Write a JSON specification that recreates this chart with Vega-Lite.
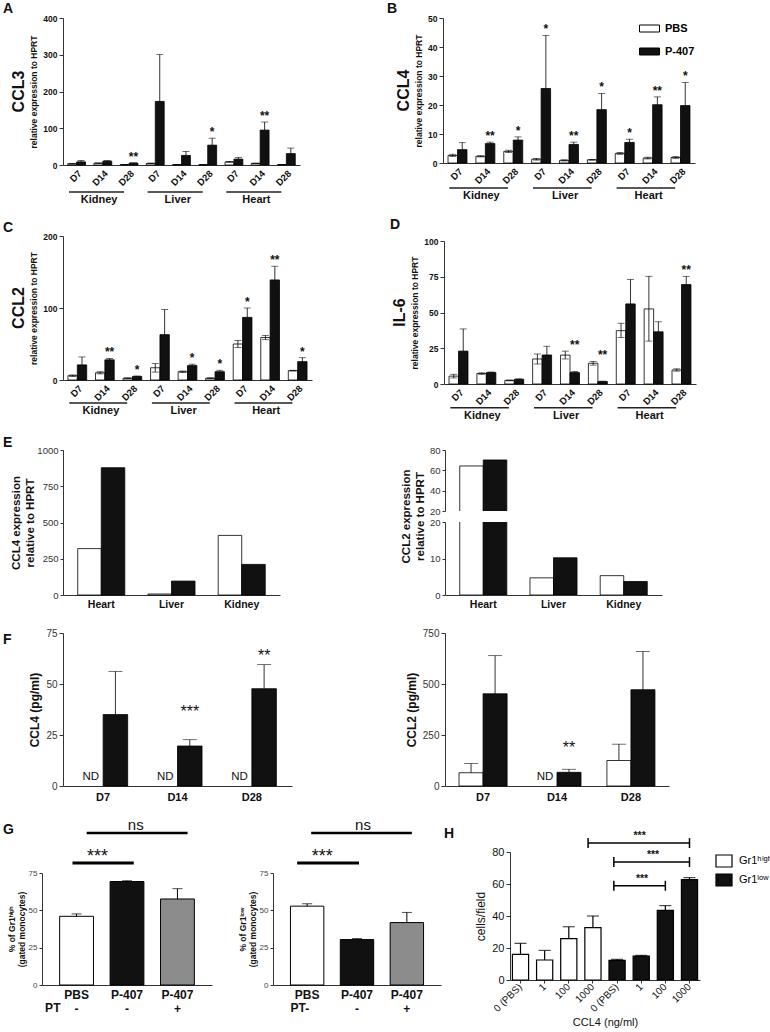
{
"$schema":"https://vega.github.io/schema/vega-lite/v6.json",
"padding":{"left":3,"top":2,"right":2,"bottom":2},
"config":{
 "font":"Liberation Sans",
 "view":{"stroke":null},
 "axis":{"grid":false,"domainColor":"#333333","tickColor":"#333333","labelColor":"#111111","titleColor":"#111111","labelFlush":false,"labelOverlap":false},
 "title":{"color":"#111111"},
 "text":{"color":"#111111"}
},
"datasets":{
 "organs":[
  {"organ":"Kidney","first":"Kidney D7","mid":"Kidney D14","last":"Kidney D28"},
  {"organ":"Liver","first":"Liver D7","mid":"Liver D14","last":"Liver D28"},
  {"organ":"Heart","first":"Heart D7","mid":"Heart D14","last":"Heart D28"}
 ],
 "A":[
  {"s":"Kidney D7","g":"PBS","v":3.5,"lo":2.5,"hi":4.5},
  {"s":"Kidney D7","g":"P-407","v":8.5,"lo":8.5,"hi":12.5},
  {"s":"Kidney D14","g":"PBS","v":5,"lo":4.5,"hi":5.5},
  {"s":"Kidney D14","g":"P-407","v":10.5,"lo":10.5,"hi":12},
  {"s":"Kidney D28","g":"PBS","v":1,"lo":0.8,"hi":1.2},
  {"s":"Kidney D28","g":"P-407","v":5,"lo":5,"hi":6,"sig":"**"},
  {"s":"Liver D7","g":"PBS","v":4.5,"lo":4,"hi":5},
  {"s":"Liver D7","g":"P-407","v":173,"lo":173,"hi":301},
  {"s":"Liver D14","g":"PBS","v":1,"lo":0.8,"hi":1.2},
  {"s":"Liver D14","g":"P-407","v":26,"lo":26,"hi":37},
  {"s":"Liver D28","g":"PBS","v":1,"lo":0.8,"hi":1.2},
  {"s":"Liver D28","g":"P-407","v":54,"lo":54,"hi":73,"sig":"*"},
  {"s":"Heart D7","g":"PBS","v":8.5,"lo":7.5,"hi":9.5},
  {"s":"Heart D7","g":"P-407","v":16,"lo":16,"hi":20.5},
  {"s":"Heart D14","g":"PBS","v":4.5,"lo":4,"hi":5},
  {"s":"Heart D14","g":"P-407","v":95,"lo":95,"hi":117,"sig":"**"},
  {"s":"Heart D28","g":"PBS","v":1,"lo":0.8,"hi":1.2},
  {"s":"Heart D28","g":"P-407","v":31,"lo":31,"hi":46}
 ],
 "B":[
  {"s":"Kidney D7","g":"PBS","v":2.6,"lo":2.2,"hi":3.0},
  {"s":"Kidney D7","g":"P-407","v":4.6,"lo":4.6,"hi":7.0},
  {"s":"Kidney D14","g":"PBS","v":2.3,"lo":2.1,"hi":2.5},
  {"s":"Kidney D14","g":"P-407","v":6.7,"lo":6.7,"hi":7.2,"sig":"**"},
  {"s":"Kidney D28","g":"PBS","v":4.0,"lo":3.6,"hi":4.4},
  {"s":"Kidney D28","g":"P-407","v":7.9,"lo":7.9,"hi":9.0,"sig":"*"},
  {"s":"Liver D7","g":"PBS","v":1.3,"lo":1.0,"hi":1.6},
  {"s":"Liver D7","g":"P-407","v":25.7,"lo":25.7,"hi":44,"sig":"*"},
  {"s":"Liver D14","g":"PBS","v":0.9,"lo":0.7,"hi":1.1},
  {"s":"Liver D14","g":"P-407","v":6.4,"lo":6.4,"hi":7.2,"sig":"**"},
  {"s":"Liver D28","g":"PBS","v":1.1,"lo":1.0,"hi":1.2},
  {"s":"Liver D28","g":"P-407","v":18.4,"lo":18.4,"hi":24,"sig":"*"},
  {"s":"Heart D7","g":"PBS","v":3.3,"lo":3.0,"hi":3.6},
  {"s":"Heart D7","g":"P-407","v":7.1,"lo":7.1,"hi":8.2,"sig":"*"},
  {"s":"Heart D14","g":"PBS","v":1.7,"lo":1.4,"hi":2.0},
  {"s":"Heart D14","g":"P-407","v":20.1,"lo":20.1,"hi":22.8,"sig":"**"},
  {"s":"Heart D28","g":"PBS","v":1.9,"lo":1.6,"hi":2.2},
  {"s":"Heart D28","g":"P-407","v":19.8,"lo":19.8,"hi":27.8,"sig":"*"}
 ],
 "C":[
  {"s":"Kidney D7","g":"PBS","v":6,"lo":5,"hi":7},
  {"s":"Kidney D7","g":"P-407","v":21,"lo":21,"hi":32},
  {"s":"Kidney D14","g":"PBS","v":10,"lo":8.5,"hi":11.5},
  {"s":"Kidney D14","g":"P-407","v":28,"lo":28,"hi":30,"sig":"**"},
  {"s":"Kidney D28","g":"PBS","v":2.5,"lo":2,"hi":3},
  {"s":"Kidney D28","g":"P-407","v":5,"lo":5,"hi":5.5,"sig":"*"},
  {"s":"Liver D7","g":"PBS","v":17,"lo":11,"hi":23},
  {"s":"Liver D7","g":"P-407","v":63,"lo":63,"hi":98},
  {"s":"Liver D14","g":"PBS","v":11.5,"lo":10.5,"hi":12.5},
  {"s":"Liver D14","g":"P-407","v":20,"lo":20,"hi":22,"sig":"*"},
  {"s":"Liver D28","g":"PBS","v":2.5,"lo":2,"hi":3},
  {"s":"Liver D28","g":"P-407","v":11.5,"lo":11.5,"hi":13.5,"sig":"*"},
  {"s":"Heart D7","g":"PBS","v":50,"lo":45,"hi":55},
  {"s":"Heart D7","g":"P-407","v":87,"lo":87,"hi":100,"sig":"*"},
  {"s":"Heart D14","g":"PBS","v":59,"lo":56,"hi":62},
  {"s":"Heart D14","g":"P-407","v":139,"lo":139,"hi":158,"sig":"**"},
  {"s":"Heart D28","g":"PBS","v":13,"lo":12.5,"hi":13.5},
  {"s":"Heart D28","g":"P-407","v":25.5,"lo":25.5,"hi":31,"sig":"*"}
 ],
 "D":[
  {"s":"Kidney D7","g":"PBS","v":5.5,"lo":4.2,"hi":6.8},
  {"s":"Kidney D7","g":"P-407","v":23,"lo":23,"hi":38.5},
  {"s":"Kidney D14","g":"PBS","v":7.3,"lo":6.8,"hi":7.8},
  {"s":"Kidney D14","g":"P-407","v":8,"lo":8,"hi":8.4},
  {"s":"Kidney D28","g":"PBS","v":2.5,"lo":2.2,"hi":2.8},
  {"s":"Kidney D28","g":"P-407","v":3.3,"lo":3.3,"hi":3.6},
  {"s":"Liver D7","g":"PBS","v":17.5,"lo":14,"hi":21},
  {"s":"Liver D7","g":"P-407","v":20.3,"lo":20.3,"hi":26.4},
  {"s":"Liver D14","g":"PBS","v":20.2,"lo":17.5,"hi":23},
  {"s":"Liver D14","g":"P-407","v":8,"lo":8,"hi":8.8,"sig":"**"},
  {"s":"Liver D28","g":"PBS","v":14.5,"lo":13.2,"hi":15.8},
  {"s":"Liver D28","g":"P-407","v":1.7,"lo":1.7,"hi":2,"sig":"**"},
  {"s":"Heart D7","g":"PBS","v":37.3,"lo":32.5,"hi":42.5},
  {"s":"Heart D7","g":"P-407","v":56,"lo":56,"hi":73},
  {"s":"Heart D14","g":"PBS","v":52.5,"lo":30,"hi":75.3},
  {"s":"Heart D14","g":"P-407","v":36.5,"lo":36.5,"hi":43.5},
  {"s":"Heart D28","g":"PBS","v":9.8,"lo":9,"hi":10.6},
  {"s":"Heart D28","g":"P-407","v":69.5,"lo":69.5,"hi":75.3,"sig":"**"}
 ],
 "E1":[
  {"o":"Heart","g":"PBS","v":320},{"o":"Heart","g":"P-407","v":878},
  {"o":"Liver","g":"PBS","v":7},{"o":"Liver","g":"P-407","v":96},
  {"o":"Kidney","g":"PBS","v":411},{"o":"Kidney","g":"P-407","v":211}
 ],
 "E2":[
  {"o":"Heart","g":"PBS","v":64.3},{"o":"Heart","g":"P-407","v":70.2},
  {"o":"Liver","g":"PBS","v":4.7},{"o":"Liver","g":"P-407","v":10.2},
  {"o":"Kidney","g":"PBS","v":5.3},{"o":"Kidney","g":"P-407","v":3.7}
 ],
 "F1":[
  {"d":"D7","g":"PBS","nd":"ND"},{"d":"D7","g":"P-407","v":35,"hi":56.2},
  {"d":"D14","g":"PBS","nd":"ND"},{"d":"D14","g":"P-407","v":19.6,"hi":22.7},
  {"d":"D28","g":"PBS","nd":"ND"},{"d":"D28","g":"P-407","v":47.7,"hi":59.5}
 ],
 "F2":[
  {"d":"D7","g":"PBS","v":65,"hi":110},{"d":"D7","g":"P-407","v":452,"hi":639},
  {"d":"D14","g":"PBS","nd":"ND"},{"d":"D14","g":"P-407","v":67,"hi":82,"sig":"**"},
  {"d":"D28","g":"PBS","v":125,"hi":205},{"d":"D28","g":"P-407","v":472,"hi":659}
 ],
 "G1":[{"c":"PBS","v":46,"hi":47.6},{"c":"P-407","v":69.3,"hi":69.8},{"c":"P-407 PT","v":57.6,"hi":64.5}],
 "G2":[{"c":"PBS","v":52.8,"hi":54.4},{"c":"P-407","v":30.4,"hi":31.1},{"c":"P-407 PT","v":41.8,"hi":48.6}],
 "H":[
  {"s":"high|0 (PBS)","g":"Gr1ʰⁱᵍʰ","v":16,"hi":22.9},
  {"s":"high|1","g":"Gr1ʰⁱᵍʰ","v":12.5,"hi":18.5},
  {"s":"high|100","g":"Gr1ʰⁱᵍʰ","v":25.8,"hi":33.3},
  {"s":"high|1000","g":"Gr1ʰⁱᵍʰ","v":32.7,"hi":40},
  {"s":"low|0 (PBS)","g":"Gr1ˡᵒʷ","v":12.3,"hi":12.9},
  {"s":"low|1","g":"Gr1ˡᵒʷ","v":15,"hi":15.4},
  {"s":"low|100","g":"Gr1ˡᵒʷ","v":43.5,"hi":46.5},
  {"s":"low|1000","g":"Gr1ˡᵒʷ","v":62.7,"hi":64}
 ]
},
"resolve":{"scale":{"fill":"independent","xOffset":"independent"},"legend":{"fill":"independent"}},
"spacing":15,
"vconcat":[
 {"bounds":"flush","spacing":20,
  "resolve":{"scale":{"fill":"independent","xOffset":"independent"},"legend":{"fill":"independent"}},
  "hconcat":[
  {"width":1,"height":1,"data":{"values":[{"k":1}]},"mark":{"type":"point","opacity":0}},
  {"spacing":18,
   "resolve":{"scale":{"fill":"independent","xOffset":"independent"},"legend":{"fill":"independent"}},
   "vconcat":[
   {"spacing":15,
    "resolve":{"scale":{"fill":"independent","xOffset":"independent"},"legend":{"fill":"independent"}},
    "vconcat":[
    {"spacing":11,
     "resolve":{"scale":{"fill":"independent","xOffset":"independent"},"legend":{"fill":"independent"}},
     "vconcat":[
     {"spacing":87,
      "resolve":{"scale":{"fill":"independent","xOffset":"independent"},"legend":{"fill":"independent"}},
      "hconcat":[
      {"title":{"text":"A","anchor":"start","frame":"group","fontSize":14,"fontWeight":"bold","offset":-2,"dx":-60},
       "resolve":{"scale":{"fill":"independent","xOffset":"independent"},"legend":{"fill":"independent"}},
       "vconcat":[{
        "width":237,"height":147,
        "title":{"text":"CCL3","orient":"left","anchor":"middle","frame":"group","fontSize":16,"fontWeight":"bold","offset":3},
        "layer":[
         {"data":{"name":"A"},
          "encoding":{
           "x":{"field":"s","type":"nominal","scale":{"type":"band","domain":["Kidney D7","Kidney D14","Kidney D28","Liver D7","Liver D14","Liver D28","Heart D7","Heart D14","Heart D28"],"paddingInner":0.32,"paddingOuter":0.18},"axis":{"title":null,"labelExpr":"split(datum.value, ' ')[1]","labelAngle":-45,"labelFontSize":9.5,"labelFontWeight":"bold","ticks":false,"labelPadding":3,"labelOverlap":false}},
           "xOffset":{"field":"g","type":"nominal","scale":{"type":"band","domain":["PBS","P-407"],"paddingInner":0,"paddingOuter":0}}},
          "layer":[
           {"mark":{"type":"bar","stroke":"#000","strokeWidth":0.8},"encoding":{"y":{"field":"v","type":"quantitative","scale":{"domain":[0,400]},"axis":{"title":"relative expression to HPRT","titleFontSize":8.5,"titleFontWeight":"bold","titlePadding":4,"values":[0,100,200,300,400],"tickCount":20,"labelOverlap":false,"labelFontSize":8.5,"labelFontWeight":"bold","tickSize":4,"labelPadding":2}},"fill":{"field":"g","type":"nominal","scale":{"domain":["PBS","P-407"],"range":["#ffffff","#111111"]},"legend":null}}},
           {"mark":{"type":"rule","color":"#000","strokeWidth":0.8},"encoding":{"y":{"field":"lo","type":"quantitative","scale":{"domain":[0,400]}},"y2":{"field":"hi"}}},
           {"mark":{"type":"tick","color":"#000","size":7,"thickness":0.8},"encoding":{"y":{"field":"hi","type":"quantitative","scale":{"domain":[0,400]}}}},
           {"transform":[{"filter":"datum.g == 'PBS'"}],"mark":{"type":"tick","color":"#000","size":7,"thickness":0.8},"encoding":{"y":{"field":"lo","type":"quantitative","scale":{"domain":[0,400]}}}},
           {"transform":[{"joinaggregate":[{"op":"max","field":"hi","as":"top"}],"groupby":["s"]},{"filter":"datum.sig"}],"mark":{"type":"text","fontSize":12,"fontWeight":"bold","baseline":"alphabetic","dy":-2},"encoding":{"y":{"field":"top","type":"quantitative","scale":{"domain":[0,400]}},"text":{"field":"sig"}}}
          ]},
         {"data":{"name":"organs"},
          "encoding":{"y":{"datum":-73.5,"type":"quantitative","scale":{"domain":[0,400]}}},
          "layer":[
           {"mark":{"type":"rule","color":"#222","strokeWidth":1.5},"encoding":{"x":{"field":"first","type":"nominal","bandPosition":0.07,"scale":{"type":"band","domain":["Kidney D7","Kidney D14","Kidney D28","Liver D7","Liver D14","Liver D28","Heart D7","Heart D14","Heart D28"],"paddingInner":0.32,"paddingOuter":0.18}},"x2":{"field":"last","bandPosition":0.22}}},
           {"mark":{"type":"text","fontSize":11,"fontWeight":"bold","baseline":"top","dy":2},"encoding":{"x":{"field":"mid","type":"nominal","bandPosition":0.29,"scale":{"type":"band","domain":["Kidney D7","Kidney D14","Kidney D28","Liver D7","Liver D14","Liver D28","Heart D7","Heart D14","Heart D28"],"paddingInner":0.32,"paddingOuter":0.18}},"text":{"field":"organ"}}}
          ]}
        ]
       }]
      },
      {"title":{"text":"B","anchor":"start","frame":"group","fontSize":14,"fontWeight":"bold","offset":-2,"dx":-56},
       "resolve":{"scale":{"fill":"independent","xOffset":"independent"},"legend":{"fill":"independent"}},
       "vconcat":[{
        "width":252,"height":145,
        "title":{"text":"CCL4","orient":"left","anchor":"middle","frame":"group","fontSize":16,"fontWeight":"bold","offset":3},
        "layer":[
         {"data":{"name":"B"},
          "encoding":{
           "x":{"field":"s","type":"nominal","scale":{"type":"band","domain":["Kidney D7","Kidney D14","Kidney D28","Liver D7","Liver D14","Liver D28","Heart D7","Heart D14","Heart D28"],"paddingInner":0.32,"paddingOuter":0.18},"axis":{"title":null,"labelExpr":"split(datum.value, ' ')[1]","labelAngle":-45,"labelFontSize":9.5,"labelFontWeight":"bold","ticks":false,"labelPadding":3,"labelOverlap":false}},
           "xOffset":{"field":"g","type":"nominal","scale":{"type":"band","domain":["PBS","P-407"],"paddingInner":0,"paddingOuter":0}}},
          "layer":[
           {"mark":{"type":"bar","stroke":"#000","strokeWidth":0.8},"encoding":{"y":{"field":"v","type":"quantitative","scale":{"domain":[0,50]},"axis":{"title":"relative expression to HPRT","titleFontSize":8.5,"titleFontWeight":"bold","titlePadding":4,"values":[0,10,20,30,40,50],"tickCount":20,"labelOverlap":false,"labelFontSize":8.5,"labelFontWeight":"bold","tickSize":4,"labelPadding":2}},"fill":{"field":"g","type":"nominal","scale":{"domain":["PBS","P-407"],"range":["#ffffff","#111111"]},"legend":{"title":null,"orient":"top-right","offset":0,"padding":0,"symbolType":"M-1,-0.35L1,-0.35L1,0.35L-1,0.35Z","symbolSize":400,"symbolStrokeColor":"#000","symbolStrokeWidth":1,"labelFontSize":11,"labelFontWeight":"bold","labelOffset":5,"rowPadding":7}}}},
           {"mark":{"type":"rule","color":"#000","strokeWidth":0.8},"encoding":{"y":{"field":"lo","type":"quantitative","scale":{"domain":[0,50]}},"y2":{"field":"hi"}}},
           {"mark":{"type":"tick","color":"#000","size":7,"thickness":0.8},"encoding":{"y":{"field":"hi","type":"quantitative","scale":{"domain":[0,50]}}}},
           {"transform":[{"filter":"datum.g == 'PBS'"}],"mark":{"type":"tick","color":"#000","size":7,"thickness":0.8},"encoding":{"y":{"field":"lo","type":"quantitative","scale":{"domain":[0,50]}}}},
           {"transform":[{"joinaggregate":[{"op":"max","field":"hi","as":"top"}],"groupby":["s"]},{"filter":"datum.sig"}],"mark":{"type":"text","fontSize":12,"fontWeight":"bold","baseline":"alphabetic","dy":-2},"encoding":{"y":{"field":"top","type":"quantitative","scale":{"domain":[0,50]}},"text":{"field":"sig"}}}
          ]},
         {"data":{"name":"organs"},
          "encoding":{"y":{"datum":-8.6,"type":"quantitative","scale":{"domain":[0,50]}}},
          "layer":[
           {"mark":{"type":"rule","color":"#222","strokeWidth":1.5},"encoding":{"x":{"field":"first","type":"nominal","bandPosition":0.07,"scale":{"type":"band","domain":["Kidney D7","Kidney D14","Kidney D28","Liver D7","Liver D14","Liver D28","Heart D7","Heart D14","Heart D28"],"paddingInner":0.32,"paddingOuter":0.18}},"x2":{"field":"last","bandPosition":0.22}}},
           {"mark":{"type":"text","fontSize":11,"fontWeight":"bold","baseline":"top","dy":2},"encoding":{"x":{"field":"mid","type":"nominal","bandPosition":0.29,"scale":{"type":"band","domain":["Kidney D7","Kidney D14","Kidney D28","Liver D7","Liver D14","Liver D28","Heart D7","Heart D14","Heart D28"],"paddingInner":0.32,"paddingOuter":0.18}},"text":{"field":"organ"}}}
          ]}
        ]
       }]
      }
     ]},
     {"spacing":78,
      "resolve":{"scale":{"fill":"independent","xOffset":"independent"},"legend":{"fill":"independent"}},
      "hconcat":[
      {"title":{"text":"C","anchor":"start","frame":"group","fontSize":14,"fontWeight":"bold","offset":-3,"dx":-60},
       "resolve":{"scale":{"fill":"independent","xOffset":"independent"},"legend":{"fill":"independent"}},
       "vconcat":[{
        "width":249,"height":144,
        "title":{"text":"CCL2","orient":"left","anchor":"middle","frame":"group","fontSize":16,"fontWeight":"bold","offset":3},
        "layer":[
         {"data":{"name":"C"},
          "encoding":{
           "x":{"field":"s","type":"nominal","scale":{"type":"band","domain":["Kidney D7","Kidney D14","Kidney D28","Liver D7","Liver D14","Liver D28","Heart D7","Heart D14","Heart D28"],"paddingInner":0.32,"paddingOuter":0.18},"axis":{"title":null,"labelExpr":"split(datum.value, ' ')[1]","labelAngle":-45,"labelFontSize":9.5,"labelFontWeight":"bold","ticks":false,"labelPadding":3,"labelOverlap":false}},
           "xOffset":{"field":"g","type":"nominal","scale":{"type":"band","domain":["PBS","P-407"],"paddingInner":0,"paddingOuter":0}}},
          "layer":[
           {"mark":{"type":"bar","stroke":"#000","strokeWidth":0.8},"encoding":{"y":{"field":"v","type":"quantitative","scale":{"domain":[0,200]},"axis":{"title":"relative expression to HPRT","titleFontSize":8.5,"titleFontWeight":"bold","titlePadding":4,"values":[0,100,200],"tickCount":20,"labelOverlap":false,"labelFontSize":8.5,"labelFontWeight":"bold","tickSize":4,"labelPadding":2}},"fill":{"field":"g","type":"nominal","scale":{"domain":["PBS","P-407"],"range":["#ffffff","#111111"]},"legend":null}}},
           {"mark":{"type":"rule","color":"#000","strokeWidth":0.8},"encoding":{"y":{"field":"lo","type":"quantitative","scale":{"domain":[0,200]}},"y2":{"field":"hi"}}},
           {"mark":{"type":"tick","color":"#000","size":7,"thickness":0.8},"encoding":{"y":{"field":"hi","type":"quantitative","scale":{"domain":[0,200]}}}},
           {"transform":[{"filter":"datum.g == 'PBS'"}],"mark":{"type":"tick","color":"#000","size":7,"thickness":0.8},"encoding":{"y":{"field":"lo","type":"quantitative","scale":{"domain":[0,200]}}}},
           {"transform":[{"joinaggregate":[{"op":"max","field":"hi","as":"top"}],"groupby":["s"]},{"filter":"datum.sig"}],"mark":{"type":"text","fontSize":12,"fontWeight":"bold","baseline":"alphabetic","dy":-2},"encoding":{"y":{"field":"top","type":"quantitative","scale":{"domain":[0,200]}},"text":{"field":"sig"}}}
          ]},
         {"data":{"name":"organs"},
          "encoding":{"y":{"datum":-32,"type":"quantitative","scale":{"domain":[0,200]}}},
          "layer":[
           {"mark":{"type":"rule","color":"#222","strokeWidth":1.5},"encoding":{"x":{"field":"first","type":"nominal","bandPosition":0.07,"scale":{"type":"band","domain":["Kidney D7","Kidney D14","Kidney D28","Liver D7","Liver D14","Liver D28","Heart D7","Heart D14","Heart D28"],"paddingInner":0.32,"paddingOuter":0.18}},"x2":{"field":"last","bandPosition":0.22}}},
           {"mark":{"type":"text","fontSize":11,"fontWeight":"bold","baseline":"top","dy":2},"encoding":{"x":{"field":"mid","type":"nominal","bandPosition":0.29,"scale":{"type":"band","domain":["Kidney D7","Kidney D14","Kidney D28","Liver D7","Liver D14","Liver D28","Heart D7","Heart D14","Heart D28"],"paddingInner":0.32,"paddingOuter":0.18}},"text":{"field":"organ"}}}
          ]}
        ]
       }]
      },
      {"title":{"text":"D","anchor":"start","frame":"group","fontSize":14,"fontWeight":"bold","offset":2,"dx":-54},
       "spacing":-3,
       "resolve":{"scale":{"fill":"independent","xOffset":"independent"},"legend":{"fill":"independent"}},
       "vconcat":[
        {"width":1,"height":1,"data":{"values":[{"k":1}]},"mark":{"type":"point","opacity":0}},
        {
        "width":252,"height":143,
        "title":{"text":"IL-6","orient":"left","anchor":"middle","frame":"group","fontSize":16,"fontWeight":"bold","offset":3},
        "layer":[
         {"data":{"name":"D"},
          "encoding":{
           "x":{"field":"s","type":"nominal","scale":{"type":"band","domain":["Kidney D7","Kidney D14","Kidney D28","Liver D7","Liver D14","Liver D28","Heart D7","Heart D14","Heart D28"],"paddingInner":0.32,"paddingOuter":0.18},"axis":{"title":null,"labelExpr":"split(datum.value, ' ')[1]","labelAngle":-45,"labelFontSize":9.5,"labelFontWeight":"bold","ticks":false,"labelPadding":3,"labelOverlap":false}},
           "xOffset":{"field":"g","type":"nominal","scale":{"type":"band","domain":["PBS","P-407"],"paddingInner":0,"paddingOuter":0}}},
          "layer":[
           {"mark":{"type":"bar","stroke":"#000","strokeWidth":0.8},"encoding":{"y":{"field":"v","type":"quantitative","scale":{"domain":[0,100]},"axis":{"title":"relative expression to HPRT","titleFontSize":8.5,"titleFontWeight":"bold","titlePadding":4,"values":[0,25,50,75,100],"tickCount":20,"labelOverlap":false,"labelFontSize":8.5,"labelFontWeight":"bold","tickSize":4,"labelPadding":2}},"fill":{"field":"g","type":"nominal","scale":{"domain":["PBS","P-407"],"range":["#ffffff","#111111"]},"legend":null}}},
           {"mark":{"type":"rule","color":"#000","strokeWidth":0.8},"encoding":{"y":{"field":"lo","type":"quantitative","scale":{"domain":[0,100]}},"y2":{"field":"hi"}}},
           {"mark":{"type":"tick","color":"#000","size":7,"thickness":0.8},"encoding":{"y":{"field":"hi","type":"quantitative","scale":{"domain":[0,100]}}}},
           {"transform":[{"filter":"datum.g == 'PBS'"}],"mark":{"type":"tick","color":"#000","size":7,"thickness":0.8},"encoding":{"y":{"field":"lo","type":"quantitative","scale":{"domain":[0,100]}}}},
           {"transform":[{"joinaggregate":[{"op":"max","field":"hi","as":"top"}],"groupby":["s"]},{"filter":"datum.sig"}],"mark":{"type":"text","fontSize":12,"fontWeight":"bold","baseline":"alphabetic","dy":-2},"encoding":{"y":{"field":"top","type":"quantitative","scale":{"domain":[0,100]}},"text":{"field":"sig"}}}
          ]},
         {"data":{"name":"organs"},
          "encoding":{"y":{"datum":-16.6,"type":"quantitative","scale":{"domain":[0,100]}}},
          "layer":[
           {"mark":{"type":"rule","color":"#222","strokeWidth":1.5},"encoding":{"x":{"field":"first","type":"nominal","bandPosition":0.07,"scale":{"type":"band","domain":["Kidney D7","Kidney D14","Kidney D28","Liver D7","Liver D14","Liver D28","Heart D7","Heart D14","Heart D28"],"paddingInner":0.32,"paddingOuter":0.18}},"x2":{"field":"last","bandPosition":0.22}}},
           {"mark":{"type":"text","fontSize":11,"fontWeight":"bold","baseline":"top","dy":2},"encoding":{"x":{"field":"mid","type":"nominal","bandPosition":0.29,"scale":{"type":"band","domain":["Kidney D7","Kidney D14","Kidney D28","Liver D7","Liver D14","Liver D28","Heart D7","Heart D14","Heart D28"],"paddingInner":0.32,"paddingOuter":0.18}},"text":{"field":"organ"}}}
          ]}
        ]
       }]
      }
     ]}
    ]},
    {"spacing":120,
     "resolve":{"scale":{"fill":"independent","xOffset":"independent"},"legend":{"fill":"independent"}},
     "hconcat":[
     {"width":217,"height":145,
      "title":{"text":"E","anchor":"start","frame":"group","fontSize":14,"fontWeight":"bold","offset":0,"dx":-60,"dy":5},
      "data":{"name":"E1"},
      "mark":{"type":"bar","stroke":"#000","strokeWidth":0.8},
      "encoding":{
       "x":{"field":"o","type":"nominal","scale":{"type":"band","domain":["Heart","Liver","Kidney"],"paddingInner":0.33,"paddingOuter":0.21},"axis":{"title":null,"labelAngle":0,"labelFontSize":10.5,"labelFontWeight":"bold","ticks":false,"labelPadding":4}},
       "xOffset":{"field":"g","type":"nominal","scale":{"type":"band","domain":["PBS","P-407"],"paddingInner":0,"paddingOuter":0}},
       "y":{"field":"v","type":"quantitative","scale":{"domain":[0,1000]},"axis":{"title":["CCL4 expression","relative to HPRT"],"titleFontSize":11.5,"titleFontWeight":"bold","titleLineHeight":14,"titlePadding":1,"values":[0,250,500,750,1000],"format":"d","labelFontSize":9.5,"labelColor":"#333","tickSize":3,"labelPadding":2}},
       "fill":{"field":"g","type":"nominal","scale":{"domain":["PBS","P-407"],"range":["#ffffff","#111111"]},"legend":null}
      }
     },
     {"spacing":11,"bounds":"flush",
      "resolve":{"scale":{"fill":"independent","xOffset":"independent"},"legend":{"fill":"independent"}},
      "vconcat":[
       {"width":217,"height":61,"data":{"name":"E2"},
        "mark":{"type":"bar","stroke":"#000","strokeWidth":0.8,"clip":true},
        "encoding":{
         "x":{"field":"o","type":"nominal","scale":{"type":"band","domain":["Heart","Liver","Kidney"],"paddingInner":0.33,"paddingOuter":0.21},"axis":null},
         "xOffset":{"field":"g","type":"nominal","scale":{"type":"band","domain":["PBS","P-407"],"paddingInner":0,"paddingOuter":0}},
         "y":{"field":"v","type":"quantitative","scale":{"domain":[20,80]},"axis":{"title":["CCL2 expression","relative to HPRT"],"titleFontSize":11.5,"titleFontWeight":"bold","titleLineHeight":14,"titlePadding":4,"titleY":66,"values":[20,40,60,80],"labelFontSize":9.5,"labelColor":"#333","tickSize":3,"labelPadding":2}},
         "y2":{"datum":0},
         "fill":{"field":"g","type":"nominal","scale":{"domain":["PBS","P-407"],"range":["#ffffff","#111111"]},"legend":null}
        }},
       {"width":217,"height":73,"data":{"name":"E2"},
        "mark":{"type":"bar","stroke":"#000","strokeWidth":0.8,"clip":true},
        "encoding":{
         "x":{"field":"o","type":"nominal","scale":{"type":"band","domain":["Heart","Liver","Kidney"],"paddingInner":0.33,"paddingOuter":0.21},"axis":{"title":null,"labelAngle":0,"labelFontSize":10.5,"labelFontWeight":"bold","ticks":false,"labelPadding":4}},
         "xOffset":{"field":"g","type":"nominal","scale":{"type":"band","domain":["PBS","P-407"],"paddingInner":0,"paddingOuter":0}},
         "y":{"field":"v","type":"quantitative","scale":{"domain":[0,20]},"axis":{"title":null,"values":[0,10,20],"labelFontSize":9.5,"labelColor":"#333","tickSize":3,"labelPadding":2}},
         "fill":{"field":"g","type":"nominal","scale":{"domain":["PBS","P-407"],"range":["#ffffff","#111111"]},"legend":null}
        }}
      ]}
    ]}
   ]},
   {"spacing":113,
    "resolve":{"scale":{"fill":"independent","xOffset":"independent"},"legend":{"fill":"independent"}},
    "hconcat":[
    {"width":229,"height":153,
     "title":{"text":"F","anchor":"start","frame":"group","fontSize":14,"fontWeight":"bold","offset":0,"dx":-60,"dy":19},
     "layer":[
      {"data":{"name":"F1"},
       "encoding":{
        "x":{"field":"d","type":"nominal","scale":{"type":"band","domain":["D7","D14","D28"],"paddingInner":0.34,"paddingOuter":0.21},"axis":{"title":null,"labelAngle":0,"labelFontSize":11,"labelFontWeight":"bold","ticks":false,"labelPadding":5}},
        "xOffset":{"field":"g","type":"nominal","scale":{"type":"band","domain":["PBS","P-407"],"paddingInner":0,"paddingOuter":0}}},
       "layer":[
        {"mark":{"type":"bar","stroke":"#000","strokeWidth":0.8},"encoding":{"y":{"field":"v","type":"quantitative","scale":{"domain":[0,75]},"axis":{"title":"CCL4 (pg/ml)","titleFontSize":12,"titleFontWeight":"bold","titlePadding":4,"values":[0,25,50,75],"tickCount":20,"labelOverlap":false,"labelFontSize":10,"labelColor":"#333","tickSize":4,"labelPadding":2}},"fill":{"field":"g","type":"nominal","scale":{"domain":["PBS","P-407"],"range":["#ffffff","#111111"]},"legend":null}}},
        {"transform":[{"filter":"datum.hi"}],"mark":{"type":"rule","color":"#000","strokeWidth":0.8},"encoding":{"y":{"field":"v","type":"quantitative","scale":{"domain":[0,75]}},"y2":{"field":"hi"}}},
        {"transform":[{"filter":"datum.hi"}],"mark":{"type":"tick","color":"#000","size":14,"thickness":0.8},"encoding":{"y":{"field":"hi","type":"quantitative","scale":{"domain":[0,75]}}}},
        {"transform":[{"filter":"datum.nd"}],"mark":{"type":"text","fontSize":11.5,"baseline":"alphabetic","dy":-6},"encoding":{"y":{"datum":0,"type":"quantitative","scale":{"domain":[0,75]}},"text":{"field":"nd"}}}
       ]},
      {"data":{"values":[{"d":"D14","t":"***"}]},"mark":{"type":"text","fontSize":16,"baseline":"alphabetic"},
       "encoding":{"x":{"field":"d","type":"nominal","bandPosition":0.75,"scale":{"type":"band","domain":["D7","D14","D28"],"paddingInner":0.34,"paddingOuter":0.21}},"y":{"datum":33.8,"type":"quantitative","scale":{"domain":[0,75]}},"text":{"field":"t"}}},
      {"data":{"values":[{"d":"D28","t":"**"}]},"mark":{"type":"text","fontSize":16,"baseline":"alphabetic"},
       "encoding":{"x":{"field":"d","type":"nominal","bandPosition":0.75,"scale":{"type":"band","domain":["D7","D14","D28"],"paddingInner":0.34,"paddingOuter":0.21}},"y":{"datum":61.1,"type":"quantitative","scale":{"domain":[0,75]}},"text":{"field":"t"}}}
     ]
    },
    {"width":224,"height":153,
     "layer":[
      {"data":{"name":"F2"},
       "encoding":{
        "x":{"field":"d","type":"nominal","scale":{"type":"band","domain":["D7","D14","D28"],"paddingInner":0.35,"paddingOuter":0.19},"axis":{"title":null,"labelAngle":0,"labelFontSize":11,"labelFontWeight":"bold","ticks":false,"labelPadding":5}},
        "xOffset":{"field":"g","type":"nominal","scale":{"type":"band","domain":["PBS","P-407"],"paddingInner":0,"paddingOuter":0}}},
       "layer":[
        {"mark":{"type":"bar","stroke":"#000","strokeWidth":0.8},"encoding":{"y":{"field":"v","type":"quantitative","scale":{"domain":[0,750]},"axis":{"title":"CCL2 (pg/ml)","titleFontSize":12,"titleFontWeight":"bold","titlePadding":4,"values":[0,250,500,750],"tickCount":20,"labelOverlap":false,"labelFontSize":10,"labelColor":"#333","tickSize":4,"labelPadding":2}},"fill":{"field":"g","type":"nominal","scale":{"domain":["PBS","P-407"],"range":["#ffffff","#111111"]},"legend":null}}},
        {"transform":[{"filter":"datum.hi"}],"mark":{"type":"rule","color":"#000","strokeWidth":0.8},"encoding":{"y":{"field":"v","type":"quantitative","scale":{"domain":[0,750]}},"y2":{"field":"hi"}}},
        {"transform":[{"filter":"datum.hi"}],"mark":{"type":"tick","color":"#000","size":14,"thickness":0.8},"encoding":{"y":{"field":"hi","type":"quantitative","scale":{"domain":[0,750]}}}},
        {"transform":[{"filter":"datum.nd"}],"mark":{"type":"text","fontSize":11.5,"baseline":"alphabetic","dy":-6},"encoding":{"y":{"datum":0,"type":"quantitative","scale":{"domain":[0,750]}},"text":{"field":"nd"}}},
        {"transform":[{"filter":"datum.sig"}],"mark":{"type":"text","fontSize":16,"baseline":"alphabetic","dy":-16},"encoding":{"y":{"field":"hi","type":"quantitative","scale":{"domain":[0,750]}},"text":{"field":"sig"}}}
       ]}
     ]
    }
   ]}
  ]}
 ]},
 {"spacing":3,
  "resolve":{"scale":{"fill":"independent","xOffset":"independent"},"legend":{"fill":"independent"}},
  "hconcat":[
  {"bounds":"flush","spacing":20,
   "resolve":{"scale":{"fill":"independent","xOffset":"independent"},"legend":{"fill":"independent"}},
   "vconcat":[
   {"width":1,"height":1,"data":{"values":[{"k":1}]},"mark":{"type":"point","opacity":0}},
   {"spacing":26,
    "resolve":{"scale":{"fill":"independent","xOffset":"independent"},"legend":{"fill":"independent"}},
    "hconcat":[
    {"width":170,"height":112,
     "title":{"text":"G","anchor":"start","frame":"group","fontSize":14,"fontWeight":"bold","offset":0,"dx":-39,"dy":19},
     "layer":[
      {"data":{"name":"G1"},
       "encoding":{"x":{"field":"c","type":"nominal","scale":{"type":"band","domain":["PBS","P-407","P-407 PT"],"paddingInner":0.33,"paddingOuter":0.35},"axis":{"title":null,"labelExpr":"datum.value == 'PBS' ? ['PBS', '-'] : datum.value == 'P-407' ? ['P-407', '-'] : ['P-407', '+']","labelAngle":0,"labelFontSize":12,"labelFontWeight":"bold","labelLineHeight":14,"ticks":false,"labelPadding":4,"labelOverlap":false}}},
       "layer":[
        {"mark":{"type":"bar","stroke":"#000","strokeWidth":1},"encoding":{"y":{"field":"v","type":"quantitative","scale":{"domain":[0,75]},"axis":{"title":["% of Gr1ʰⁱᵍʰ","(gated monocytes)"],"titleFontSize":8.5,"titleFontWeight":"bold","titleLineHeight":9.5,"titlePadding":2,"values":[0,25,50,75],"tickCount":20,"labelOverlap":false,"labelFontSize":8,"labelColor":"#444","tickSize":3,"labelPadding":2}},"fill":{"field":"c","type":"nominal","scale":{"domain":["PBS","P-407","P-407 PT"],"range":["#ffffff","#111111","#8c8c8c"]},"legend":null}}},
        {"mark":{"type":"rule","color":"#000"},"encoding":{"y":{"field":"v","type":"quantitative","scale":{"domain":[0,75]}},"y2":{"field":"hi"}}},
        {"mark":{"type":"tick","color":"#000","size":10,"thickness":1},"encoding":{"y":{"field":"hi","type":"quantitative","scale":{"domain":[0,75]}}}}
       ]},
      {"data":{"values":[{"a":"PBS","t":"PT"}]},"mark":{"type":"text","align":"left","baseline":"alphabetic","fontSize":12,"fontWeight":"bold"},
       "encoding":{"x":{"field":"a","type":"nominal","bandPosition":-0.43,"scale":{"type":"band","domain":["PBS","P-407","P-407 PT"],"paddingInner":0.33,"paddingOuter":0.35}},"y":{"datum":-18,"type":"quantitative","scale":{"domain":[0,75]}},"text":{"field":"t"}}},
      {"data":{"values":[{"a":"PBS","b":"P-407","m":"PBS","t":"***"}]},
       "encoding":{"y":{"datum":81.7,"type":"quantitative","scale":{"domain":[0,75]}}},
       "layer":[
        {"mark":{"type":"rule","color":"#000","strokeWidth":3},"encoding":{"x":{"field":"a","type":"nominal","bandPosition":0.38,"scale":{"type":"band","domain":["PBS","P-407","P-407 PT"],"paddingInner":0.33,"paddingOuter":0.35}},"x2":{"field":"b","bandPosition":0.7}}},
        {"mark":{"type":"text","fontSize":18,"baseline":"alphabetic","dy":-1},"encoding":{"x":{"field":"m","type":"nominal","bandPosition":1.12,"scale":{"type":"band","domain":["PBS","P-407","P-407 PT"],"paddingInner":0.33,"paddingOuter":0.35}},"text":{"field":"t"}}}
       ]},
      {"data":{"values":[{"a":"PBS","b":"P-407 PT","m":"P-407","t":"ns"}]},
       "encoding":{"y":{"datum":101.8,"type":"quantitative","scale":{"domain":[0,75]}}},
       "layer":[
        {"mark":{"type":"rule","color":"#000","strokeWidth":2.5},"encoding":{"x":{"field":"a","type":"nominal","bandPosition":0.8,"scale":{"type":"band","domain":["PBS","P-407","P-407 PT"],"paddingInner":0.33,"paddingOuter":0.35}},"x2":{"field":"b","bandPosition":0.8}}},
        {"mark":{"type":"text","fontSize":15,"baseline":"alphabetic","dy":-3},"encoding":{"x":{"field":"m","type":"nominal","bandPosition":0.76,"scale":{"type":"band","domain":["PBS","P-407","P-407 PT"],"paddingInner":0.33,"paddingOuter":0.35}},"text":{"field":"t"}}}
       ]}
     ]
    },
    {"width":168,"height":112,
     "layer":[
      {"data":{"name":"G2"},
       "encoding":{"x":{"field":"c","type":"nominal","scale":{"type":"band","domain":["PBS","P-407","P-407 PT"],"paddingInner":0.33,"paddingOuter":0.35},"axis":{"title":null,"labelExpr":"datum.value == 'PBS' ? ['PBS', '-'] : datum.value == 'P-407' ? ['P-407', '-'] : ['P-407', '+']","labelAngle":0,"labelFontSize":12,"labelFontWeight":"bold","labelLineHeight":14,"ticks":false,"labelPadding":4,"labelOverlap":false}}},
       "layer":[
        {"mark":{"type":"bar","stroke":"#000","strokeWidth":1},"encoding":{"y":{"field":"v","type":"quantitative","scale":{"domain":[0,75]},"axis":{"title":["% of Gr1ˡᵒʷ","(gated monocytes)"],"titleFontSize":8.5,"titleFontWeight":"bold","titleLineHeight":9.5,"titlePadding":2,"values":[0,25,50,75],"tickCount":20,"labelOverlap":false,"labelFontSize":8,"labelColor":"#444","tickSize":3,"labelPadding":2}},"fill":{"field":"c","type":"nominal","scale":{"domain":["PBS","P-407","P-407 PT"],"range":["#ffffff","#111111","#8c8c8c"]},"legend":null}}},
        {"mark":{"type":"rule","color":"#000"},"encoding":{"y":{"field":"v","type":"quantitative","scale":{"domain":[0,75]}},"y2":{"field":"hi"}}},
        {"mark":{"type":"tick","color":"#000","size":10,"thickness":1},"encoding":{"y":{"field":"hi","type":"quantitative","scale":{"domain":[0,75]}}}}
       ]},
      {"data":{"values":[{"a":"PBS","t":"PT"}]},"mark":{"type":"text","align":"left","baseline":"alphabetic","fontSize":12,"fontWeight":"bold"},
       "encoding":{"x":{"field":"a","type":"nominal","bandPosition":0,"scale":{"type":"band","domain":["PBS","P-407","P-407 PT"],"paddingInner":0.33,"paddingOuter":0.35}},"y":{"datum":-18,"type":"quantitative","scale":{"domain":[0,75]}},"text":{"field":"t"}}},
      {"data":{"values":[{"a":"PBS","b":"P-407","m":"PBS","t":"***"}]},
       "encoding":{"y":{"datum":81.7,"type":"quantitative","scale":{"domain":[0,75]}}},
       "layer":[
        {"mark":{"type":"rule","color":"#000","strokeWidth":3},"encoding":{"x":{"field":"a","type":"nominal","bandPosition":0.2,"scale":{"type":"band","domain":["PBS","P-407","P-407 PT"],"paddingInner":0.33,"paddingOuter":0.35}},"x2":{"field":"b","bandPosition":0.56}}},
        {"mark":{"type":"text","fontSize":18,"baseline":"alphabetic","dy":-1},"encoding":{"x":{"field":"m","type":"nominal","bandPosition":0.95,"scale":{"type":"band","domain":["PBS","P-407","P-407 PT"],"paddingInner":0.33,"paddingOuter":0.35}},"text":{"field":"t"}}}
       ]},
      {"data":{"values":[{"a":"PBS","b":"P-407 PT","m":"P-407","t":"ns"}]},
       "encoding":{"y":{"datum":101.8,"type":"quantitative","scale":{"domain":[0,75]}}},
       "layer":[
        {"mark":{"type":"rule","color":"#000","strokeWidth":2.5},"encoding":{"x":{"field":"a","type":"nominal","bandPosition":0.62,"scale":{"type":"band","domain":["PBS","P-407","P-407 PT"],"paddingInner":0.33,"paddingOuter":0.35}},"x2":{"field":"b","bandPosition":0.65}}},
        {"mark":{"type":"text","fontSize":15,"baseline":"alphabetic","dy":-3},"encoding":{"x":{"field":"m","type":"nominal","bandPosition":0.68,"scale":{"type":"band","domain":["PBS","P-407","P-407 PT"],"paddingInner":0.33,"paddingOuter":0.35}},"text":{"field":"t"}}}
       ]}
     ]
    }
   ]}
  ]},
  {"width":190,"height":128,
   "title":{"text":"H","anchor":"start","frame":"group","fontSize":14,"fontWeight":"bold","offset":-10,"dx":-66},
   "layer":[
    {"data":{"name":"H"},
     "encoding":{"x":{"field":"s","type":"nominal","scale":{"type":"band","domain":["high|0 (PBS)","high|1","high|100","high|1000","low|0 (PBS)","low|1","low|100","low|1000"],"paddingInner":0.33,"paddingOuter":0.1},"axis":{"title":"CCL4 (ng/ml)","titleFontSize":11,"titleFontWeight":"normal","titlePadding":3,"labelExpr":"split(datum.value, '|')[1]","labelAngle":-45,"labelBaseline":"middle","labelFontSize":10,"tickSize":3,"labelPadding":2,"labelOverlap":false}}},
     "layer":[
      {"mark":{"type":"bar","stroke":"#000","strokeWidth":1.2},"encoding":{"y":{"field":"v","type":"quantitative","scale":{"domain":[0,80]},"axis":{"title":"cells/field","titleFontSize":12,"titleFontWeight":"normal","titlePadding":4,"values":[0,20,40,60,80],"tickCount":20,"labelOverlap":false,"labelFontSize":11,"tickSize":4,"labelPadding":2}},"fill":{"field":"g","type":"nominal","scale":{"domain":["Gr1ʰⁱᵍʰ","Gr1ˡᵒʷ"],"range":["#ffffff","#111111"]},"legend":{"title":null,"orient":"right","offset":15,"padding":0,"symbolType":"M-1,-0.75L1,-0.75L1,0.75L-1,0.75Z","symbolSize":256,"symbolStrokeColor":"#000","symbolStrokeWidth":1.2,"labelFontSize":11,"labelOffset":6,"rowPadding":1}}}},
      {"mark":{"type":"rule","color":"#000","strokeWidth":1.2},"encoding":{"y":{"field":"v","type":"quantitative","scale":{"domain":[0,80]}},"y2":{"field":"hi"}}},
      {"mark":{"type":"tick","color":"#000","size":12,"thickness":1.2},"encoding":{"y":{"field":"hi","type":"quantitative","scale":{"domain":[0,80]}}}}
     ]},
    {"data":{"values":[{"a":"high|1000","b":"low|1000","m":"low|1","t":"***"}]},
     "layer":[
      {"mark":{"type":"rule","color":"#000","strokeWidth":1.5},"encoding":{"x":{"field":"a","type":"nominal","bandPosition":0.2,"scale":{"type":"band","domain":["high|0 (PBS)","high|1","high|100","high|1000","low|0 (PBS)","low|1","low|100","low|1000"],"paddingInner":0.33,"paddingOuter":0.1}},"x2":{"field":"b","bandPosition":0.5},"y":{"datum":85.6,"type":"quantitative","scale":{"domain":[0,80]}}}},
      {"mark":{"type":"rule","color":"#000","strokeWidth":1.5},"encoding":{"x":{"field":"a","type":"nominal","bandPosition":0.2,"scale":{"type":"band","domain":["high|0 (PBS)","high|1","high|100","high|1000","low|0 (PBS)","low|1","low|100","low|1000"],"paddingInner":0.33,"paddingOuter":0.1}},"y":{"datum":82.5,"type":"quantitative","scale":{"domain":[0,80]}},"y2":{"datum":88.7}}},
      {"mark":{"type":"rule","color":"#000","strokeWidth":1.5},"encoding":{"x":{"field":"b","type":"nominal","bandPosition":0.5,"scale":{"type":"band","domain":["high|0 (PBS)","high|1","high|100","high|1000","low|0 (PBS)","low|1","low|100","low|1000"],"paddingInner":0.33,"paddingOuter":0.1}},"y":{"datum":82.5,"type":"quantitative","scale":{"domain":[0,80]}},"y2":{"datum":88.7}}},
      {"mark":{"type":"text","fontSize":10.5,"fontWeight":"bold","baseline":"alphabetic","dy":-4},"encoding":{"x":{"field":"m","type":"nominal","bandPosition":0.4,"scale":{"type":"band","domain":["high|0 (PBS)","high|1","high|100","high|1000","low|0 (PBS)","low|1","low|100","low|1000"],"paddingInner":0.33,"paddingOuter":0.1}},"y":{"datum":85.6,"type":"quantitative","scale":{"domain":[0,80]}},"text":{"field":"t"}}}
     ]},
    {"data":{"values":[{"a":"low|0 (PBS)","b":"low|1000","m":"low|1","t":"***"}]},
     "layer":[
      {"mark":{"type":"rule","color":"#000","strokeWidth":1.5},"encoding":{"x":{"field":"a","type":"nominal","bandPosition":0.3,"scale":{"type":"band","domain":["high|0 (PBS)","high|1","high|100","high|1000","low|0 (PBS)","low|1","low|100","low|1000"],"paddingInner":0.33,"paddingOuter":0.1}},"x2":{"field":"b","bandPosition":0.5},"y":{"datum":73.75,"type":"quantitative","scale":{"domain":[0,80]}}}},
      {"mark":{"type":"rule","color":"#000","strokeWidth":1.5},"encoding":{"x":{"field":"a","type":"nominal","bandPosition":0.3,"scale":{"type":"band","domain":["high|0 (PBS)","high|1","high|100","high|1000","low|0 (PBS)","low|1","low|100","low|1000"],"paddingInner":0.33,"paddingOuter":0.1}},"y":{"datum":70.65,"type":"quantitative","scale":{"domain":[0,80]}},"y2":{"datum":76.85}}},
      {"mark":{"type":"rule","color":"#000","strokeWidth":1.5},"encoding":{"x":{"field":"b","type":"nominal","bandPosition":0.5,"scale":{"type":"band","domain":["high|0 (PBS)","high|1","high|100","high|1000","low|0 (PBS)","low|1","low|100","low|1000"],"paddingInner":0.33,"paddingOuter":0.1}},"y":{"datum":70.65,"type":"quantitative","scale":{"domain":[0,80]}},"y2":{"datum":76.85}}},
      {"mark":{"type":"text","fontSize":10.5,"fontWeight":"bold","baseline":"alphabetic","dy":-4},"encoding":{"x":{"field":"m","type":"nominal","bandPosition":1.23,"scale":{"type":"band","domain":["high|0 (PBS)","high|1","high|100","high|1000","low|0 (PBS)","low|1","low|100","low|1000"],"paddingInner":0.33,"paddingOuter":0.1}},"y":{"datum":73.75,"type":"quantitative","scale":{"domain":[0,80]}},"text":{"field":"t"}}}
     ]},
    {"data":{"values":[{"a":"low|0 (PBS)","b":"low|100","m":"low|1","t":"***"}]},
     "layer":[
      {"mark":{"type":"rule","color":"#000","strokeWidth":1.5},"encoding":{"x":{"field":"a","type":"nominal","bandPosition":0.3,"scale":{"type":"band","domain":["high|0 (PBS)","high|1","high|100","high|1000","low|0 (PBS)","low|1","low|100","low|1000"],"paddingInner":0.33,"paddingOuter":0.1}},"x2":{"field":"b","bandPosition":0.5},"y":{"datum":58.9,"type":"quantitative","scale":{"domain":[0,80]}}}},
      {"mark":{"type":"rule","color":"#000","strokeWidth":1.5},"encoding":{"x":{"field":"a","type":"nominal","bandPosition":0.3,"scale":{"type":"band","domain":["high|0 (PBS)","high|1","high|100","high|1000","low|0 (PBS)","low|1","low|100","low|1000"],"paddingInner":0.33,"paddingOuter":0.1}},"y":{"datum":55.8,"type":"quantitative","scale":{"domain":[0,80]}},"y2":{"datum":62}}},
      {"mark":{"type":"rule","color":"#000","strokeWidth":1.5},"encoding":{"x":{"field":"b","type":"nominal","bandPosition":0.5,"scale":{"type":"band","domain":["high|0 (PBS)","high|1","high|100","high|1000","low|0 (PBS)","low|1","low|100","low|1000"],"paddingInner":0.33,"paddingOuter":0.1}},"y":{"datum":55.8,"type":"quantitative","scale":{"domain":[0,80]}},"y2":{"datum":62}}},
      {"mark":{"type":"text","fontSize":10.5,"fontWeight":"bold","baseline":"alphabetic","dy":-4},"encoding":{"x":{"field":"m","type":"nominal","bandPosition":0.55,"scale":{"type":"band","domain":["high|0 (PBS)","high|1","high|100","high|1000","low|0 (PBS)","low|1","low|100","low|1000"],"paddingInner":0.33,"paddingOuter":0.1}},"y":{"datum":58.9,"type":"quantitative","scale":{"domain":[0,80]}},"text":{"field":"t"}}}
     ]}
   ]
  }
 ]}
]
}
